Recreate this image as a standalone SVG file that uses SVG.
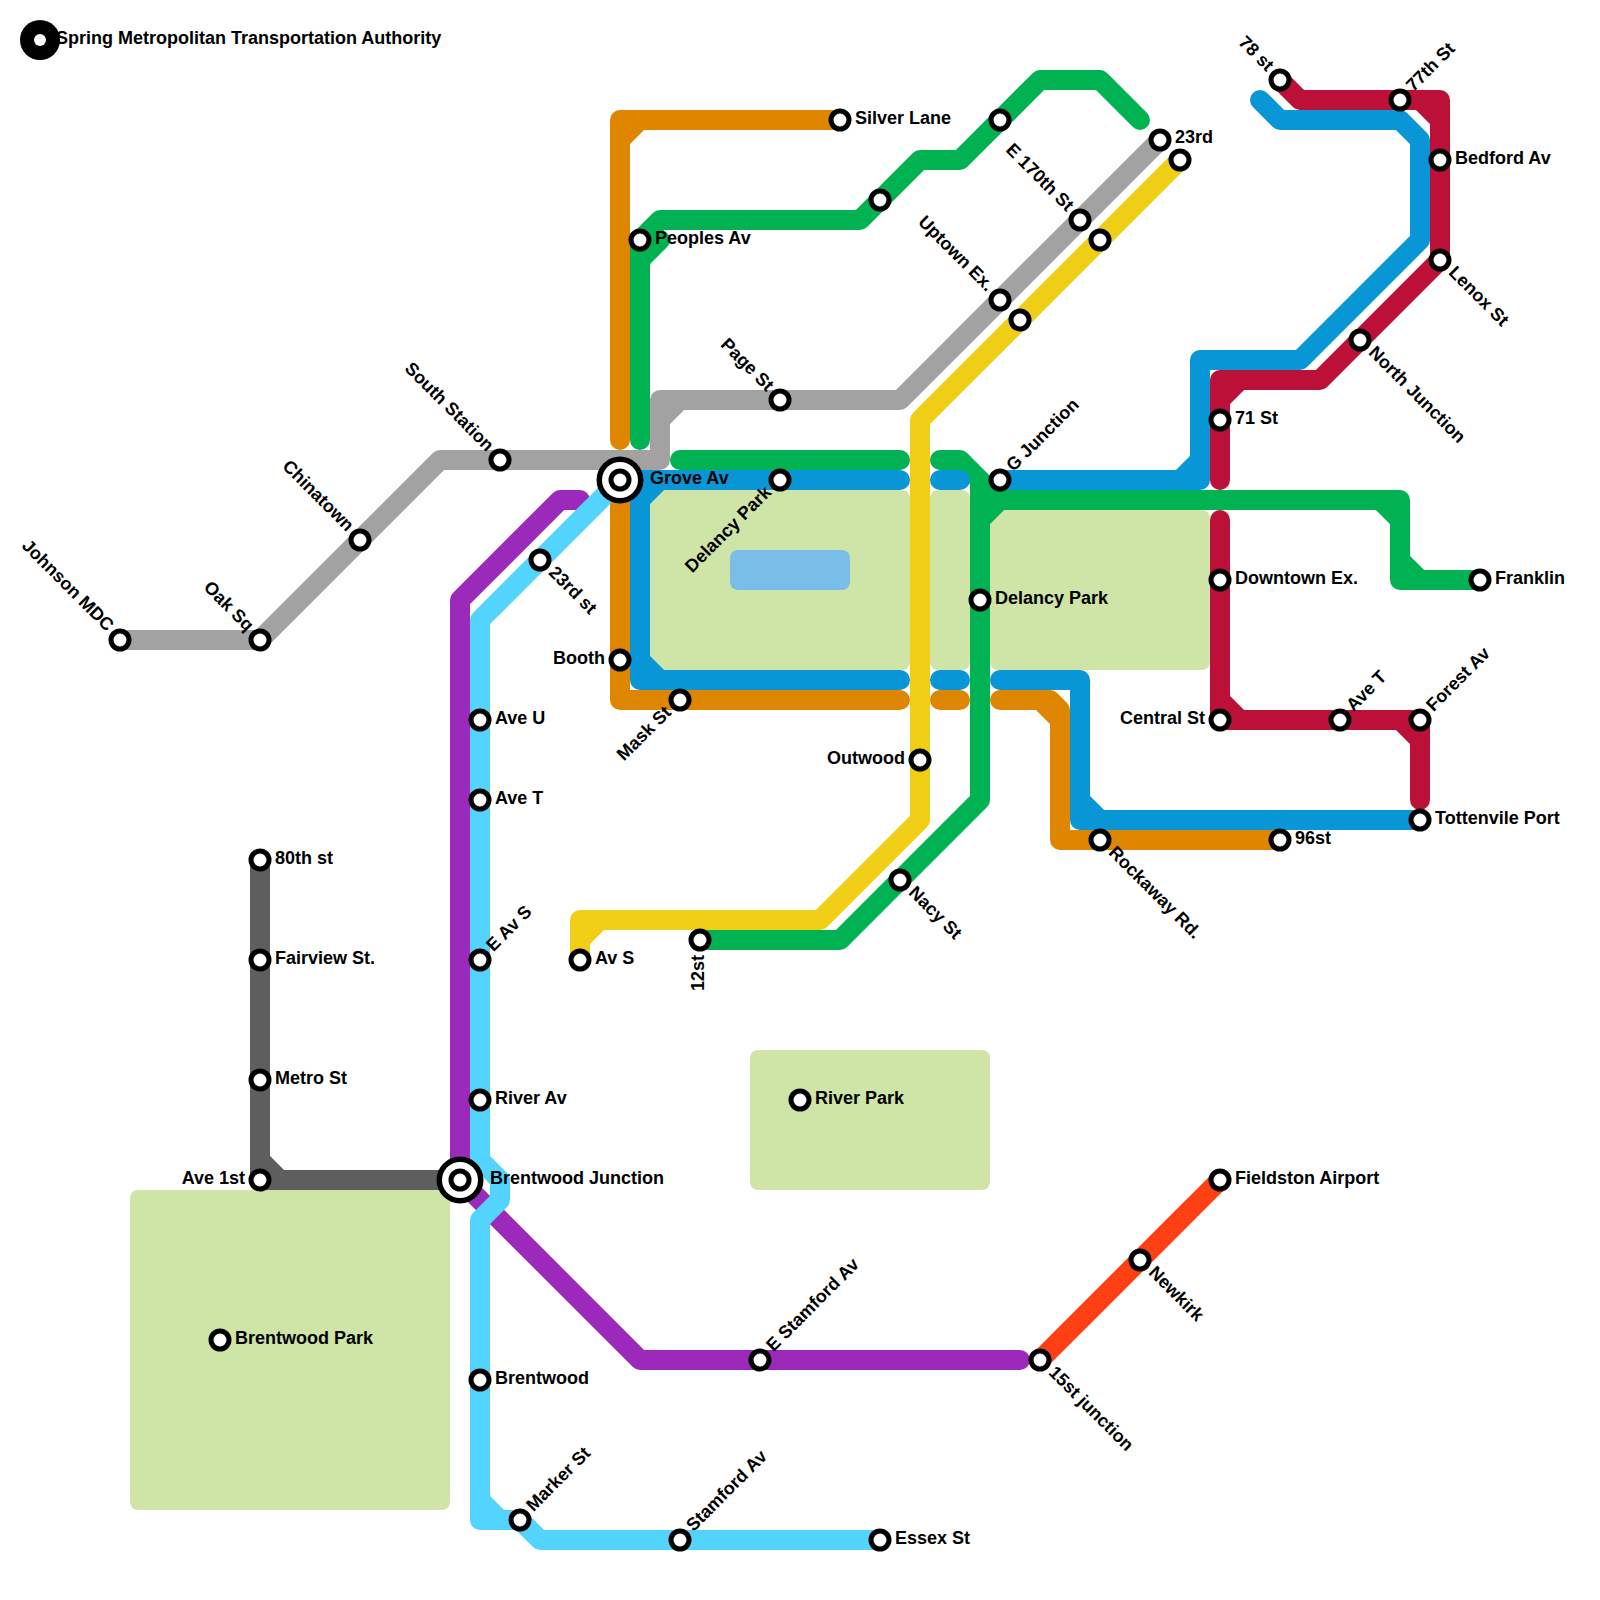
<svg xmlns="http://www.w3.org/2000/svg" width="1600" height="1600" viewBox="0 0 1600 1600">
<style>
text{font-family:"Liberation Sans",Arial,sans-serif;font-weight:700;font-size:18px;fill:#000}
.l{fill:none;stroke-width:20;stroke-linecap:round;stroke-linejoin:round}
.park{fill:#cfe4a7}
.water{fill:#79bde9}
.s{fill:#fff;stroke:#000;stroke-width:5}
.e{text-anchor:end}
</style>
<defs>
<circle id="st" class="s" r="9"/>
<g id="ix"><circle r="23.5" fill="#000"/><circle r="18" fill="#fff"/><circle r="11.5" fill="#000"/><circle r="6.5" fill="#fff"/></g>
</defs>
<rect width="1600" height="1600" fill="#fff"/>
<g id="parks">
<rect class="park" x="130" y="1190" width="320" height="320" rx="8"/>
<rect class="park" x="750" y="1050" width="240" height="140" rx="8"/>
<rect class="park" x="650" y="490" width="260" height="180" rx="8"/>
<rect class="park" x="930" y="490" width="40" height="180" rx="8"/>
<rect class="park" x="990" y="510" width="220" height="160" rx="8"/>
<rect class="water" x="730" y="550" width="120" height="40" rx="8"/>
</g>
<g id="connectors">
<path class="l" stroke="#5e5e5e" d="M260 860V1180H460M260 1160L280 1180"/>
<path class="l" stroke="#a2a2a2" d="M120 640H260L440 460H660V400H900L1160 140M660 420L680 400"/>
<path class="l" stroke="#df8600" d="M620 440V120H840M620 140L640 120M620 480V700H900M940 700H960M1000 700H1050L1060 710V840H1280M1040 700L1060 720"/>
<path class="l" stroke="#00b251" d="M640 440V240L660 220H860L920 160H960L1040 80H1100L1140 120M640 260L660 240M680 460H900M940 460H960L1000 500H1380L1400 520V580H1480M1380 500H1400V520M1400 560L1420 580M980 480V800L840 940H700M980 520L1000 500"/>
<path class="l" stroke="#0896d7" d="M900 480H640V680H900M640 500L660 480M640 660L660 680M940 480H960M940 680H960M1000 680H1080V820H1420M1080 800L1100 820M1000 480H1200V360H1300L1420 240V140L1400 120H1280L1260 100M1200 460L1180 480"/>
<path class="l" stroke="#9b2aba" d="M580 500H560L460 600V1180L640 1360H1020"/>
<path class="l" stroke="#53d4ff" d="M620 480L480 620V1160L500 1180V1200L480 1220V1520H520L540 1540H880M480 1500L500 1520"/>
<path class="l" stroke="#f0ce15" d="M1180 160L920 420V820L820 920H580V960M580 940L600 920"/>
<path class="l" stroke="#bd1038" d="M1280 80L1300 100H1440V260L1320 380H1220V480M1420 100L1440 120M1220 400L1240 380M1220 520V720H1420V800M1220 700L1240 720M1400 720L1420 740"/>
<path class="l" stroke="#ff4013" d="M1040 1360L1220 1180"/>
</g>
<g id="logo"><circle cx="40" cy="40" r="20" fill="#000"/><circle cx="40" cy="40" r="6" fill="#fff"/><text x="56" y="44">Spring Metropolitan Transportation Authority</text></g>
<g id="n1" transform="translate(120 640)"><use href="#st"/><text class="e" x="-15" y="4" transform="rotate(45)">Johnson MDC</text></g>
<g id="n2" transform="translate(260 640)"><use href="#st"/><text class="e" x="-15" y="4" transform="rotate(45)">Oak Sq</text></g>
<g id="n3" transform="translate(360 540)"><use href="#st"/><text class="e" x="-15" y="4" transform="rotate(45)">Chinatown</text></g>
<g id="n4" transform="translate(500 460)"><use href="#st"/><text class="e" x="-15" y="4" transform="rotate(45)">South Station</text></g>
<g id="n5" transform="translate(620 480)"><use href="#ix"/><text x="30" y="4">Grove Av</text></g>
<g id="n6" transform="translate(620 660)"><use href="#st"/><text class="e" x="-15" y="4">Booth</text></g>
<g id="n7" transform="translate(680 700)"><use href="#st"/><text class="e" x="-15" y="4" transform="rotate(-45)">Mask St</text></g>
<g id="n8" transform="translate(780 480)"><use href="#st"/><text class="e" x="-15" y="4" transform="rotate(-45)">Delancy Park</text></g>
<g id="n9" transform="translate(780 400)"><use href="#st"/><text class="e" x="-15" y="4" transform="rotate(45)">Page St</text></g>
<g id="n10" transform="translate(540 560)"><use href="#st"/><text x="15" y="4" transform="rotate(45)">23rd st</text></g>
<g id="n11" transform="translate(640 240)"><use href="#st"/><text x="15" y="4">Peoples Av</text></g>
<g id="n12" transform="translate(840 120)"><use href="#st"/><text x="15" y="4">Silver Lane</text></g>
<g id="n13" transform="translate(880 200)"><use href="#st"/></g>
<g id="n14" transform="translate(1000 120)"><use href="#st"/></g>
<g id="n15" transform="translate(1080 220)"><use href="#st"/><text class="e" x="-15" y="4" transform="rotate(45)">E 170th St</text></g>
<g id="n16" transform="translate(1000 300)"><use href="#st"/><text class="e" x="-15" y="4" transform="rotate(45)">Uptown Ex.</text></g>
<g id="n17" transform="translate(1020 320)"><use href="#st"/></g>
<g id="n18" transform="translate(1100 240)"><use href="#st"/></g>
<g id="n19" transform="translate(1160 140)"><use href="#st"/></g>
<g id="n20" transform="translate(1180 160)"><use href="#st"/><text x="-5" y="-17">23rd</text></g>
<g id="n21" transform="translate(1000 480)"><use href="#st"/><text x="15" y="4" transform="rotate(-45)">G Junction</text></g>
<g id="n22" transform="translate(980 600)"><use href="#st"/><text x="15" y="4">Delancy Park</text></g>
<g id="n23" transform="translate(920 760)"><use href="#st"/><text class="e" x="-15" y="4">Outwood</text></g>
<g id="n24" transform="translate(900 880)"><use href="#st"/><text x="15" y="4" transform="rotate(45)">Nacy St</text></g>
<g id="n25" transform="translate(1100 840)"><use href="#st"/><text x="15" y="4" transform="rotate(45)">Rockaway Rd.</text></g>
<g id="n26" transform="translate(1280 840)"><use href="#st"/><text x="15" y="4">96st</text></g>
<g id="n27" transform="translate(1420 820)"><use href="#st"/><text x="15" y="4">Tottenvile Port</text></g>
<g id="n28" transform="translate(1420 720)"><use href="#st"/><text x="15" y="4" transform="rotate(-45)">Forest Av</text></g>
<g id="n29" transform="translate(1340 720)"><use href="#st"/><text x="15" y="4" transform="rotate(-45)">Ave T</text></g>
<g id="n30" transform="translate(1220 720)"><use href="#st"/><text class="e" x="-15" y="4">Central St</text></g>
<g id="n31" transform="translate(1220 580)"><use href="#st"/><text x="15" y="4">Downtown Ex.</text></g>
<g id="n32" transform="translate(1220 420)"><use href="#st"/><text x="15" y="4">71 St</text></g>
<g id="n33" transform="translate(1360 340)"><use href="#st"/><text x="15" y="4" transform="rotate(45)">North Junction</text></g>
<g id="n34" transform="translate(1440 260)"><use href="#st"/><text x="15" y="4" transform="rotate(45)">Lenox St</text></g>
<g id="n35" transform="translate(1440 160)"><use href="#st"/><text x="15" y="4">Bedford Av</text></g>
<g id="n36" transform="translate(1400 100)"><use href="#st"/><text x="15" y="4" transform="rotate(-45)">77th St</text></g>
<g id="n37" transform="translate(1280 80)"><use href="#st"/><text class="e" x="-15" y="4" transform="rotate(45)">78 st</text></g>
<g id="n38" transform="translate(1480 580)"><use href="#st"/><text x="15" y="4">Franklin</text></g>
<g id="n39" transform="translate(700 940)"><use href="#st"/><text class="e" x="-15" y="4" transform="rotate(-90)">12st</text></g>
<g id="n40" transform="translate(580 960)"><use href="#st"/><text x="15" y="4">Av S</text></g>
<g id="n41" transform="translate(480 960)"><use href="#st"/><text x="15" y="4" transform="rotate(-45)">E Av S</text></g>
<g id="n42" transform="translate(480 720)"><use href="#st"/><text x="15" y="4">Ave U</text></g>
<g id="n43" transform="translate(480 800)"><use href="#st"/><text x="15" y="4">Ave T</text></g>
<g id="n44" transform="translate(480 1100)"><use href="#st"/><text x="15" y="4">River Av</text></g>
<g id="n45" transform="translate(460 1180)"><use href="#ix"/><text x="30" y="4">Brentwood Junction</text></g>
<g id="n46" transform="translate(480 1380)"><use href="#st"/><text x="15" y="4">Brentwood</text></g>
<g id="n47" transform="translate(520 1520)"><use href="#st"/><text x="15" y="4" transform="rotate(-45)">Marker St</text></g>
<g id="n48" transform="translate(680 1540)"><use href="#st"/><text x="15" y="4" transform="rotate(-45)">Stamford Av</text></g>
<g id="n49" transform="translate(880 1540)"><use href="#st"/><text x="15" y="4">Essex St</text></g>
<g id="n50" transform="translate(760 1360)"><use href="#st"/><text x="15" y="4" transform="rotate(-45)">E Stamford Av</text></g>
<g id="n51" transform="translate(1040 1360)"><use href="#st"/><text x="15" y="4" transform="rotate(45)">15st junction</text></g>
<g id="n52" transform="translate(1140 1260)"><use href="#st"/><text x="15" y="4" transform="rotate(45)">Newkirk</text></g>
<g id="n53" transform="translate(1220 1180)"><use href="#st"/><text x="15" y="4">Fieldston Airport</text></g>
<g id="n54" transform="translate(800 1100)"><use href="#st"/><text x="15" y="4">River Park</text></g>
<g id="n55" transform="translate(220 1340)"><use href="#st"/><text x="15" y="4">Brentwood Park</text></g>
<g id="n56" transform="translate(260 860)"><use href="#st"/><text x="15" y="4">80th st</text></g>
<g id="n57" transform="translate(260 960)"><use href="#st"/><text x="15" y="4">Fairview St.</text></g>
<g id="n58" transform="translate(260 1080)"><use href="#st"/><text x="15" y="4">Metro St</text></g>
<g id="n59" transform="translate(260 1180)"><use href="#st"/><text class="e" x="-15" y="4">Ave 1st</text></g>
</svg>
